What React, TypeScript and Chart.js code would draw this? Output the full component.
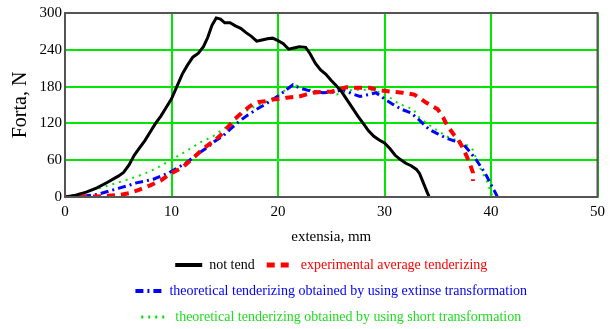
import React, { useEffect, useRef } from "react";
import { Chart, registerables } from "chart.js";

Chart.register(...registerables);

const notTendX = [0, 1, 2, 3, 4, 5, 5.5, 6, 6.5, 7, 7.5, 8, 8.5, 9, 9.5, 10, 10.5, 11, 11.5, 12, 12.5, 13, 13.4, 13.8, 14.2, 14.6, 15, 15.5, 16, 16.5, 17, 17.5, 18, 18.5, 19, 19.5, 20, 20.5, 21, 21.5, 22, 22.6, 23, 23.5, 24, 24.5, 25, 25.5, 26, 26.5, 27, 27.5, 28, 28.5, 29, 29.5, 30, 30.5, 31, 31.5, 32, 32.5, 33, 33.3, 33.6, 34, 34.2];
const notTendY = [0, 3, 8, 15, 24, 34, 40, 52, 68, 80, 92, 106, 120, 132, 146, 160, 180, 200, 215, 228, 234, 245, 260, 280, 292, 290, 284, 284, 279, 275, 268, 262, 254, 256, 258, 259, 255, 250, 241, 243, 245, 244, 234, 218, 207, 200, 190, 181, 171, 158, 145, 132, 120, 108, 99, 93, 88, 79, 68, 61, 55, 51, 45, 38, 25, 8, 0];

const expX = [0, 1, 2, 3, 4, 5, 6, 7, 8, 9, 10, 11, 12, 13, 14, 14.5, 15, 15.5, 16, 16.6, 17.2, 17.6, 18.2, 18.8, 19.5, 20.2, 20.8, 21.5, 22, 22.6, 23.3, 24, 25.1, 25.8, 26.4, 27.4, 28.6, 29.5, 30.5, 31.7, 32.8, 33.4, 33.9, 34.5, 35, 35.5, 35.9, 36.5, 36.9, 37.3, 37.7, 38, 38.3, 38.3];
const expY = [0, 0, 1, 1, 2, 3, 6, 12, 19, 27, 39, 48, 63, 79, 92, 99, 108, 118, 128, 137, 146, 151, 155, 156, 159, 160, 162, 163, 164, 167, 170, 171, 172, 176, 179, 178, 178, 174, 172, 170, 167, 160, 154, 148, 143, 130, 116, 102, 94, 82, 67, 55, 40, 26];

const extX = [0, 1, 2, 3, 4, 5, 6, 6.7, 7.5, 8.3, 9, 9.8, 10.5, 11.4, 12.3, 13.3, 14, 14.8, 15.6, 16.4, 17.2, 18, 18.8, 19.5, 20.2, 20.8, 21.4, 22, 23, 24.2, 25.2, 26.1, 27, 27.7, 28.5, 29.2, 30, 30.8, 31.6, 32.5, 33.3, 34.2, 35, 35.8, 36.6, 37.4, 38, 38.6, 39.1, 39.6, 40, 40.5, 40.6];
const extY = [0, 1, 2, 4, 9, 14, 19, 23, 26, 29, 34, 40, 47, 56, 68, 80, 90, 99, 112, 124, 134, 143, 151, 159, 167, 175, 183, 178, 173, 170, 171, 175, 168, 164, 167, 170, 160, 151, 143, 137, 125, 110, 103, 96, 91, 86, 74, 61, 48, 34, 20, 4, 0];

const shortX = [0, 1.1, 2.2, 3.3, 4.5, 5.8, 7, 8, 8.8, 9.5, 10.5, 11.4, 12.7, 13.9, 15.2, 16, 16.7, 17.5, 18.3, 19.1, 19.9, 20.5, 21.1, 21.6, 22, 23, 23.9, 24.7, 25.5, 26.2, 27, 28.6, 29.7, 30.8, 31.4, 32, 32.7, 33.3, 33.9, 34.9, 35.8, 36.4, 37, 37.7, 38.3, 38.9, 39.6, 40, 40.2];
const shortY = [0, 4, 9, 15, 21, 28, 35, 42, 49, 56, 66, 75, 89, 99, 115, 126, 137, 145, 151, 157, 164, 172, 180, 182, 180, 175, 172, 170, 167, 171, 175, 175, 170, 159, 151, 148, 143, 129, 121, 109, 99, 95, 91, 85, 77, 50, 26, 7, 0];

const seriesLabels = [
  "not tend",
  "experimental average tenderizing",
  "theoretical tenderizing obtained by using extinse transformation",
  "theoretical tenderizing obtained by using short transformation",
];
const seriesColors = ["#000000", "#ff0000", "#0000ff", "#00e600"];
const legendTextColors = ["#000000", "#ff0000", "#0000ff", "#1edc1e"];
const seriesDash = [[], [8, 6], [8, 4, 2, 4], [2, 5]];
const seriesWidth = [3, 4, 3, 2];

const yTicks = [0, 60, 120, 180, 240, 300];
const xTicks = [0, 10, 20, 30, 40, 50];

const pts = (xs: number[], ys: number[]) => xs.map((x, i) => ({ x, y: ys[i] }));

const framePlugin = {
  id: "frame",
  afterDatasetsDraw(chart: any) {
    const { ctx, chartArea } = chart;
    ctx.save();
    ctx.strokeStyle = "#555555";
    ctx.lineWidth = 2;
    ctx.strokeRect(chartArea.left, chartArea.top, chartArea.right - chartArea.left, chartArea.bottom - chartArea.top);
    ctx.restore();
  },
};

export default function App() {
  const ref = useRef<HTMLCanvasElement>(null);
  useEffect(() => {
    if (!ref.current) return;
    const allX = [notTendX, expX, extX, shortX];
    const allY = [notTendY, expY, extY, shortY];
    const chart = new Chart(ref.current, {
      type: "line",
      data: {
        datasets: seriesLabels.map((label, i) => ({
          label,
          data: pts(allX[i], allY[i]),
          borderColor: seriesColors[i],
          backgroundColor: seriesColors[i],
          borderWidth: seriesWidth[i],
          borderDash: seriesDash[i],
          pointRadius: 0,
          tension: 0,
          fill: false,
        })),
      },
      options: {
        animation: false,
        responsive: true,
        maintainAspectRatio: false,
        parsing: true,
        layout: { padding: { top: 13, right: 13, left: 0, bottom: 0 } },
        plugins: {
          tooltip: { enabled: false },
          legend: {
            position: "bottom",
            fullSize: false,
            labels: {
              usePointStyle: true,
              pointStyleWidth: 27,
              padding: 12,
              font: { family: "'Liberation Serif', 'Times New Roman', serif", size: 14 },
              generateLabels: () =>
                seriesLabels.map((text, i) => ({
                  text,
                  fillStyle: seriesColors[i],
                  strokeStyle: seriesColors[i],
                  fontColor: legendTextColors[i],
                  lineWidth: seriesWidth[i] + 1,
                  lineDash: seriesDash[i],
                  pointStyle: "line",
                  hidden: false,
                  datasetIndex: i,
                })),
            },
          },
        },
        scales: {
          x: {
            type: "linear",
            min: 0,
            max: 50,
            afterBuildTicks: (s: any) => {
              s.ticks = xTicks.map((v) => ({ value: v }));
            },
            afterFit: (s: any) => {
              s.height = 49;
            },
            grid: { color: "#00e600", lineWidth: 2, drawTicks: false },
            border: { display: false },
            ticks: {
              color: "#000",
              padding: 6,
              maxRotation: 0,
              font: { family: "'Liberation Serif', 'Times New Roman', serif", size: 15 },
            },
            title: {
              display: true,
              text: "extensia, mm",
              color: "#000",
              padding: { top: 0, bottom: 0 },
              font: { family: "'Liberation Serif', 'Times New Roman', serif", size: 15 },
            },
          },
          y: {
            type: "linear",
            min: 0,
            max: 300,
            afterBuildTicks: (s: any) => {
              s.ticks = yTicks.map((v) => ({ value: v }));
            },
            afterFit: (s: any) => {
              s.width = 65;
            },
            grid: { color: "#00e600", lineWidth: 2, drawTicks: false },
            border: { display: false },
            ticks: {
              color: "#000",
              padding: 3,
              font: { family: "'Liberation Serif', 'Times New Roman', serif", size: 15 },
            },
            title: {
              display: true,
              text: "Forta, N",
              color: "#000",
              padding: { top: 9, bottom: 0 },
              font: { family: "'Liberation Serif', 'Times New Roman', serif", size: 20 },
            },
          },
        },
      },
      plugins: [framePlugin],
    } as any);
    return () => chart.destroy();
  }, []);
  return (
    <div style={{ position: "fixed", left: 0, top: 0, width: 611, height: 334, background: "#fff" }}>
      <canvas ref={ref} style={{ display: "block" }} />
    </div>
  );
}
